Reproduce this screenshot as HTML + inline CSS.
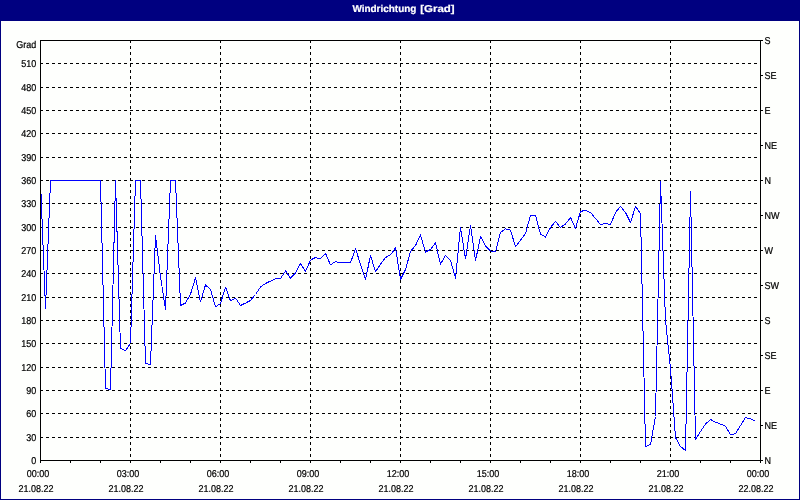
<!DOCTYPE html><html><head><meta charset="utf-8"><title>Windrichtung</title><style>
html,body{margin:0;padding:0;background:#fff;}body{width:800px;height:500px;overflow:hidden;position:relative;font-family:"Liberation Sans",sans-serif;}
svg{position:absolute;left:0;top:0;will-change:transform;}text{font-family:"Liberation Sans",sans-serif;font-size:10px;fill:#000;stroke:#000;stroke-width:0.22px;text-rendering:geometricPrecision;}
</style></head><body>
<svg width="800" height="500" viewBox="0 0 800 500">
<rect x="0" y="0" width="800" height="500" fill="#fefffd"/>
<rect x="0" y="0" width="800" height="21" fill="#000080"/>
<rect x="0" y="0" width="1" height="500" fill="#000080"/>
<rect x="799" y="0" width="1" height="500" fill="#000080"/>
<rect x="0" y="499" width="800" height="1" fill="#000080"/>
<text y="12.2" style="font-weight:bold;fill:#fff;stroke:#fff;stroke-width:0.2px;font-size:10px"><tspan x="352.4" textLength="64" lengthAdjust="spacingAndGlyphs">Windrichtung</tspan> <tspan x="420.2" textLength="34.4" lengthAdjust="spacingAndGlyphs">[Grad]</tspan></text>
<g shape-rendering="crispEdges" stroke="#000" stroke-width="1" fill="none">
<line x1="40" y1="437.5" x2="761" y2="437.5" stroke-dasharray="3,3"/>
<line x1="40" y1="413.5" x2="761" y2="413.5" stroke-dasharray="3,3"/>
<line x1="40" y1="390.5" x2="761" y2="390.5" stroke-dasharray="3,3"/>
<line x1="40" y1="367.5" x2="761" y2="367.5" stroke-dasharray="3,3"/>
<line x1="40" y1="343.5" x2="761" y2="343.5" stroke-dasharray="3,3"/>
<line x1="40" y1="320.5" x2="761" y2="320.5" stroke-dasharray="3,3"/>
<line x1="40" y1="297.5" x2="761" y2="297.5" stroke-dasharray="3,3"/>
<line x1="40" y1="273.5" x2="761" y2="273.5" stroke-dasharray="3,3"/>
<line x1="40" y1="250.5" x2="761" y2="250.5" stroke-dasharray="3,3"/>
<line x1="40" y1="227.5" x2="761" y2="227.5" stroke-dasharray="3,3"/>
<line x1="40" y1="203.5" x2="761" y2="203.5" stroke-dasharray="3,3"/>
<line x1="40" y1="180.5" x2="761" y2="180.5" stroke-dasharray="3,3"/>
<line x1="40" y1="157.5" x2="761" y2="157.5" stroke-dasharray="3,3"/>
<line x1="40" y1="133.5" x2="761" y2="133.5" stroke-dasharray="3,3"/>
<line x1="40" y1="110.5" x2="761" y2="110.5" stroke-dasharray="3,3"/>
<line x1="40" y1="87.5" x2="761" y2="87.5" stroke-dasharray="3,3"/>
<line x1="40" y1="63.5" x2="761" y2="63.5" stroke-dasharray="3,3"/>
<line x1="130.5" y1="40" x2="130.5" y2="461" stroke-dasharray="3,3"/>
<line x1="220.5" y1="40" x2="220.5" y2="461" stroke-dasharray="3,3"/>
<line x1="310.5" y1="40" x2="310.5" y2="461" stroke-dasharray="3,3"/>
<line x1="400.5" y1="40" x2="400.5" y2="461" stroke-dasharray="3,3"/>
<line x1="490.5" y1="40" x2="490.5" y2="461" stroke-dasharray="3,3"/>
<line x1="580.5" y1="40" x2="580.5" y2="461" stroke-dasharray="3,3"/>
<line x1="670.5" y1="40" x2="670.5" y2="461" stroke-dasharray="3,3"/>
<rect x="40.5" y="40.5" width="720" height="420"/>
<line x1="40.5" y1="461" x2="40.5" y2="463"/>
<line x1="70.5" y1="461" x2="70.5" y2="463"/>
<line x1="100.5" y1="461" x2="100.5" y2="463"/>
<line x1="130.5" y1="461" x2="130.5" y2="463"/>
<line x1="160.5" y1="461" x2="160.5" y2="463"/>
<line x1="190.5" y1="461" x2="190.5" y2="463"/>
<line x1="220.5" y1="461" x2="220.5" y2="463"/>
<line x1="250.5" y1="461" x2="250.5" y2="463"/>
<line x1="280.5" y1="461" x2="280.5" y2="463"/>
<line x1="310.5" y1="461" x2="310.5" y2="463"/>
<line x1="340.5" y1="461" x2="340.5" y2="463"/>
<line x1="370.5" y1="461" x2="370.5" y2="463"/>
<line x1="400.5" y1="461" x2="400.5" y2="463"/>
<line x1="430.5" y1="461" x2="430.5" y2="463"/>
<line x1="460.5" y1="461" x2="460.5" y2="463"/>
<line x1="490.5" y1="461" x2="490.5" y2="463"/>
<line x1="520.5" y1="461" x2="520.5" y2="463"/>
<line x1="550.5" y1="461" x2="550.5" y2="463"/>
<line x1="580.5" y1="461" x2="580.5" y2="463"/>
<line x1="610.5" y1="461" x2="610.5" y2="463"/>
<line x1="640.5" y1="461" x2="640.5" y2="463"/>
<line x1="670.5" y1="461" x2="670.5" y2="463"/>
<line x1="700.5" y1="461" x2="700.5" y2="463"/>
<line x1="730.5" y1="461" x2="730.5" y2="463"/>
<line x1="760.5" y1="461" x2="760.5" y2="463"/>
<line x1="761" y1="40.5" x2="763" y2="40.5"/>
<line x1="761" y1="75.5" x2="763" y2="75.5"/>
<line x1="761" y1="110.5" x2="763" y2="110.5"/>
<line x1="761" y1="145.5" x2="763" y2="145.5"/>
<line x1="761" y1="180.5" x2="763" y2="180.5"/>
<line x1="761" y1="215.5" x2="763" y2="215.5"/>
<line x1="761" y1="250.5" x2="763" y2="250.5"/>
<line x1="761" y1="285.5" x2="763" y2="285.5"/>
<line x1="761" y1="320.5" x2="763" y2="320.5"/>
<line x1="761" y1="355.5" x2="763" y2="355.5"/>
<line x1="761" y1="390.5" x2="763" y2="390.5"/>
<line x1="761" y1="425.5" x2="763" y2="425.5"/>
<line x1="761" y1="460.5" x2="763" y2="460.5"/>
</g>
<polyline shape-rendering="crispEdges" fill="none" stroke="#0000ff" stroke-width="1" stroke-linejoin="round" points="40.5,180.5 45.5,308.5 50.5,180.5 55.5,180.5 60.5,180.5 65.5,180.5 70.5,180.5 75.5,180.5 80.5,180.5 85.5,180.5 90.5,180.5 95.5,180.5 100.5,180.5 105.5,388.5 110.5,389.5 115.5,180.5 120.5,348.5 125.5,350.5 130.5,343.5 135.5,180.5 140.5,180.5 145.5,363.5 150.5,364.5 155.5,235.5 160.5,276.5 165.5,309.5 170.5,180.5 175.5,180.5 180.5,305.5 185.5,303.1 190.5,294.1 195.5,277.9 200.5,301.9 205.5,284.9 210.5,289.5 215.5,306.9 220.5,303.5 225.5,287.1 230.5,300.9 235.5,298.1 240.5,305.5 245.5,303.1 250.5,300.5 255.5,294.5 260.5,286.9 265.5,283.5 270.5,281.1 275.5,278.9 280.5,278.5 285.5,270.9 290.5,278.1 295.5,272.9 300.5,263.5 305.5,271.5 310.5,260.1 315.5,257.5 320.5,258.9 325.5,253.3 330.5,264.9 335.5,261.5 340.5,262.9 345.5,262.9 350.5,262.9 355.5,248.5 360.5,264.5 365.5,279.9 370.5,255.3 375.5,271.9 380.5,264.1 385.5,257.5 390.5,254.9 395.5,247.9 400.5,279.5 405.5,269.5 410.5,251.5 415.5,245.5 420.5,234.9 425.5,252.1 430.5,249.5 435.5,242.9 440.5,264.1 445.5,255.5 450.5,260.5 455.5,278.1 460.5,227.5 465.5,258.9 470.5,225.5 475.5,260.9 480.5,236.5 485.5,245.9 490.5,250.9 495.5,251.9 500.5,232.5 505.5,228.9 510.5,230.1 515.5,246.9 520.5,240.1 525.5,233.5 530.5,215.5 535.5,215.5 540.5,234.1 545.5,237.1 550.5,227.5 555.5,221.5 560.5,227.5 565.5,224.0 570.5,217.5 575.5,228.5 580.5,211.5 585.5,210.3 590.5,212.5 595.5,218.5 600.5,224.5 605.5,223.5 610.5,224.5 615.5,212.5 620.5,206.5 625.5,212.5 630.5,222.5 635.5,206.5 640.5,213.5 645.5,446.5 650.5,444.5 655.5,416.5 660.5,181.5 665.5,320.5 670.5,368.5 675.5,437.5 680.5,446.5 685.5,450.5 690.5,191.5 695.5,439.5 700.5,431.5 705.5,424.1 710.5,419.5 715.5,422.1 720.5,424.1 725.5,426.1 730.5,434.9 735.5,433.5 740.5,425.5 745.5,417.5 750.5,418.9 754.7,420.9"/>
<rect x="40.5" y="40.5" width="720" height="420" shape-rendering="crispEdges" stroke="#000" stroke-width="1" fill="none"/>
<text transform="translate(36.3,48) scale(0.9,1)" text-anchor="end">Grad</text>
<text transform="translate(36.2,464) scale(0.9,1)" text-anchor="end">0</text>
<text transform="translate(36.2,441) scale(0.9,1)" text-anchor="end">30</text>
<text transform="translate(36.2,417) scale(0.9,1)" text-anchor="end">60</text>
<text transform="translate(36.2,394) scale(0.9,1)" text-anchor="end">90</text>
<text transform="translate(36.2,371) scale(0.9,1)" text-anchor="end">120</text>
<text transform="translate(36.2,347) scale(0.9,1)" text-anchor="end">150</text>
<text transform="translate(36.2,324) scale(0.9,1)" text-anchor="end">180</text>
<text transform="translate(36.2,301) scale(0.9,1)" text-anchor="end">210</text>
<text transform="translate(36.2,277) scale(0.9,1)" text-anchor="end">240</text>
<text transform="translate(36.2,254) scale(0.9,1)" text-anchor="end">270</text>
<text transform="translate(36.2,231) scale(0.9,1)" text-anchor="end">300</text>
<text transform="translate(36.2,207) scale(0.9,1)" text-anchor="end">330</text>
<text transform="translate(36.2,184) scale(0.9,1)" text-anchor="end">360</text>
<text transform="translate(36.2,161) scale(0.9,1)" text-anchor="end">390</text>
<text transform="translate(36.2,137) scale(0.9,1)" text-anchor="end">420</text>
<text transform="translate(36.2,114) scale(0.9,1)" text-anchor="end">450</text>
<text transform="translate(36.2,91) scale(0.9,1)" text-anchor="end">480</text>
<text transform="translate(36.2,67) scale(0.9,1)" text-anchor="end">510</text>
<text transform="translate(764.5,464) scale(0.9,1)" text-anchor="start">N</text>
<text transform="translate(764.5,429) scale(0.9,1)" text-anchor="start">NE</text>
<text transform="translate(764.5,394) scale(0.9,1)" text-anchor="start">E</text>
<text transform="translate(764.5,359) scale(0.9,1)" text-anchor="start">SE</text>
<text transform="translate(764.5,324) scale(0.9,1)" text-anchor="start">S</text>
<text transform="translate(764.5,289) scale(0.9,1)" text-anchor="start">SW</text>
<text transform="translate(764.5,254) scale(0.9,1)" text-anchor="start">W</text>
<text transform="translate(764.5,219) scale(0.9,1)" text-anchor="start">NW</text>
<text transform="translate(764.5,184) scale(0.9,1)" text-anchor="start">N</text>
<text transform="translate(764.5,149) scale(0.9,1)" text-anchor="start">NE</text>
<text transform="translate(764.5,114) scale(0.9,1)" text-anchor="start">E</text>
<text transform="translate(764.5,79) scale(0.9,1)" text-anchor="start">SE</text>
<text transform="translate(764.5,44) scale(0.9,1)" text-anchor="start">S</text>
<text transform="translate(26.8,477) scale(0.9,1)" text-anchor="start">00:00</text>
<text transform="translate(18.5,492) scale(0.9,1)" text-anchor="start">21.08.22</text>
<text transform="translate(116.8,477) scale(0.9,1)" text-anchor="start">03:00</text>
<text transform="translate(108.5,492) scale(0.9,1)" text-anchor="start">21.08.22</text>
<text transform="translate(206.8,477) scale(0.9,1)" text-anchor="start">06:00</text>
<text transform="translate(198.5,492) scale(0.9,1)" text-anchor="start">21.08.22</text>
<text transform="translate(296.8,477) scale(0.9,1)" text-anchor="start">09:00</text>
<text transform="translate(288.5,492) scale(0.9,1)" text-anchor="start">21.08.22</text>
<text transform="translate(386.8,477) scale(0.9,1)" text-anchor="start">12:00</text>
<text transform="translate(378.5,492) scale(0.9,1)" text-anchor="start">21.08.22</text>
<text transform="translate(476.8,477) scale(0.9,1)" text-anchor="start">15:00</text>
<text transform="translate(468.5,492) scale(0.9,1)" text-anchor="start">21.08.22</text>
<text transform="translate(566.8,477) scale(0.9,1)" text-anchor="start">18:00</text>
<text transform="translate(558.5,492) scale(0.9,1)" text-anchor="start">21.08.22</text>
<text transform="translate(656.8,477) scale(0.9,1)" text-anchor="start">21:00</text>
<text transform="translate(648.5,492) scale(0.9,1)" text-anchor="start">21.08.22</text>
<text transform="translate(746.8,477) scale(0.9,1)" text-anchor="start">00:00</text>
<text transform="translate(738.5,492) scale(0.9,1)" text-anchor="start">22.08.22</text>
</svg></body></html>
